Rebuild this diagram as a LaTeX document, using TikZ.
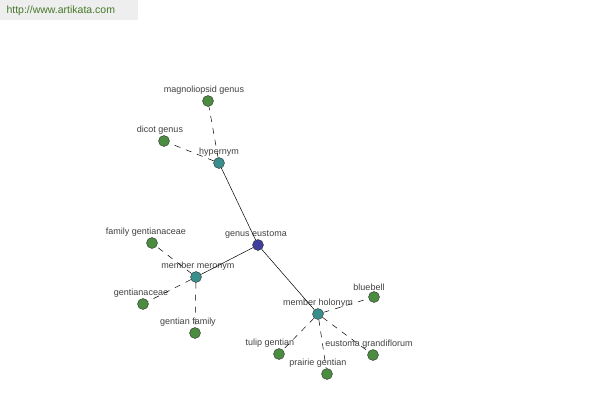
\documentclass[tikz,border=0pt]{standalone}
\usepackage{fontspec}
\setmainfont{Liberation Sans}
\usetikzlibrary{positioning}
\definecolor{leafgreen}{RGB}{76,140,64}
\definecolor{relteal}{RGB}{58,142,140}
\definecolor{rootblue}{RGB}{62,62,156}
\definecolor{urlgreen}{RGB}{70,120,40}
\definecolor{urlbg}{RGB}{238,238,238}

\begin{document}
\begin{tikzpicture}[x=1pt, y=-1pt,
  every label/.style={font=\fontsize{9}{10}\selectfont, text=black!75, inner sep=0.5pt},
  term/.style={circle, draw=black!80, minimum size=11pt, inner sep=0pt},
  leaf/.style={term, fill=leafgreen},
  rel/.style={term, fill=relteal},
  root/.style={term, fill=rootblue},
  link/.style={black, line width=0.5pt},
  dlink/.style={link, dash pattern=on 6pt off 6pt}]
  \useasboundingbox (0,0) rectangle (600,400);
  \node[fill=urlbg, anchor=north west, minimum width=138pt, minimum height=20pt] (urlbox) at (0,0) {};
  \node[anchor=west, text=urlgreen, font=\fontsize{10.5}{12}\selectfont] (url) at (3,11) {http://www.artikata.com};
  % centre and relations
  \node[root, label={[xshift=-2pt]above:genus eustoma}] (ge) at (258,245) {};
  \node[rel, label={above:hypernym}] (hyp) at (219,163) {};
  \node[rel, label={[xshift=2pt]above:member meronym}] (mer) at (196,277) {};
  \node[rel, label={above:member holonym}] (hol) at (318,314) {};
  % leaves
  \node[leaf, label={[xshift=-4pt]above:magnoliopsid genus}] (magno) at (208,101) {};
  \node[leaf, label={[xshift=-4pt]above:dicot genus}] (dicot) at (164,141) {};
  \node[leaf, label={[xshift=-6pt]above:family gentianaceae}] (famgent) at (152,243) {};
  \node[leaf, label={[xshift=-2pt]above:gentianaceae}] (gentac) at (143,304) {};
  \node[leaf, label={[xshift=-7pt]above:gentian family}] (gentfam) at (195,333) {};
  \node[leaf, label={[xshift=-5pt]above:bluebell}] (bluebell) at (374,297) {};
  \node[leaf, label={[xshift=-9pt]above:tulip gentian}] (tulip) at (279,354) {};
  \node[leaf, label={[xshift=-9pt]above:prairie gentian}] (prairie) at (327,374) {};
  \node[leaf, label={[xshift=-4pt]above:eustoma grandiflorum}] (grandi) at (373,355) {};
  % edges
  \foreach \r in {hyp,mer,hol}
    \draw[link] (ge) -- (\r);
  \foreach \l in {magno,dicot}
    \draw[dlink] (hyp) -- (\l);
  \foreach \l in {famgent,gentac,gentfam}
    \draw[dlink] (mer) -- (\l);
  \foreach \l in {bluebell,tulip,prairie,grandi}
    \draw[dlink] (hol) -- (\l);
\end{tikzpicture}
\end{document}
